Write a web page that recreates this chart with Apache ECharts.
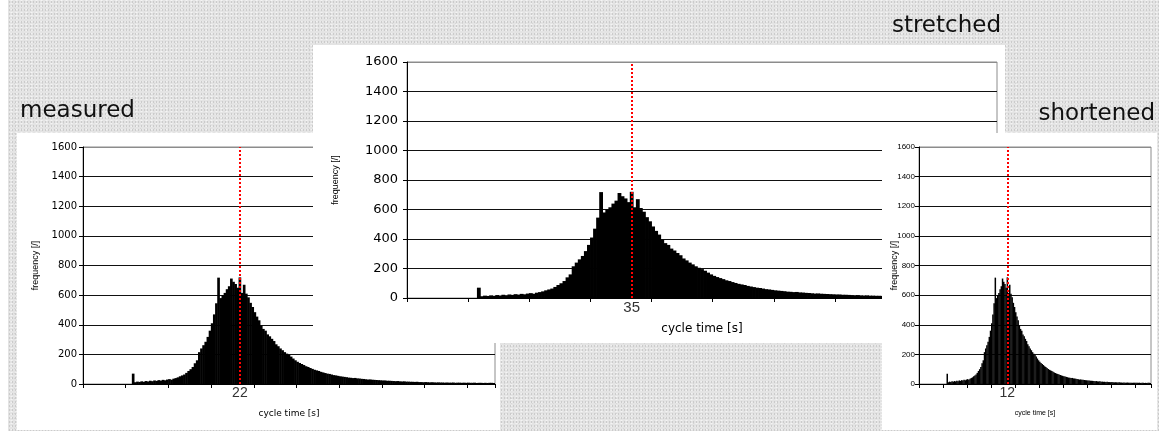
<!DOCTYPE html>
<html>
<head>
<meta charset="utf-8">
<script src="https://cdn.jsdelivr.net/npm/echarts@6/dist/echarts.min.js"></script>
<style>
  html, body { margin: 0; padding: 0; background: #fff; }
  /* grey paper-like backdrop behind the three panels */
  #bg {
    position: absolute; left: 8px; top: 0; width: 1151px; height: 431px;
    background-color: #e4e4e4;
    background-image:
      radial-gradient(#cbcbcb 0.6px, transparent 1.1px),
      radial-gradient(#f4f4f4 0.8px, transparent 1.2px),
      radial-gradient(#d6d6d6 0.6px, transparent 1px);
    background-size: 3px 4px, 5px 3px, 7px 5px;
    background-position: 0 0, 1px 2px, 3px 1px;
  }
  .chart { position: absolute; }
</style>
</head>
<body>
<div id="bg"></div>
<div id="measured" class="chart" style="left:17px;top:95px;width:483px;height:335px;z-index:1;background:linear-gradient(to bottom, transparent 38px, #fff 38px);"></div>
<div id="stretched" class="chart" style="left:313px;top:10px;width:692px;height:333px;z-index:2;background:linear-gradient(to bottom, transparent 35px, #fff 35px);"></div>
<div id="shortened" class="chart" style="left:882px;top:95px;width:275px;height:335px;z-index:3;background:linear-gradient(to bottom, transparent 38px, #fff 38px);"></div>
<script>
// panel titles and the value under the red line
const panelTitles = ['measured', 'stretched', 'shortened'];
const markLabels = ['22', '35', '12'];
const xTitle = 'cycle time [s]';
const yTitle = 'frequency [/]';

// y axis ticks
const yMin = 0;
const yMax = 1600;
const yStep = 200;

// histogram bin where the red dotted line sits, and bins between x ticks
const markBin = 73;
const binsPerTick = 20;

// frequency per bin (same histogram in all three panels)
const frequency = [
  0, 0, 0, 0, 0, 0, 0, 0, 0, 0, 0, 0, 0, 0, 0, 0, 0, 0, 0, 0, 0, 0, 0,
  70, 12, 16, 14, 18, 15, 20, 17, 22, 19, 24, 21, 26, 23, 28, 25, 30, 33, 29,
  36, 40, 45, 52, 58, 64, 75, 88, 100, 115, 140, 160, 215, 240, 262, 285, 318,
  360, 410, 470, 545, 718, 580, 600, 615, 640, 660, 712, 690, 675, 650, 720,
  615, 670, 610, 585, 548, 520, 485, 455, 430, 395, 372, 360, 335, 322, 305,
  290, 268, 255, 240, 228, 215, 205, 196, 185, 172, 160, 150, 142, 135, 128,
  120, 115, 108, 102, 96, 92, 88, 82, 78, 74, 70, 68, 64, 60, 58, 55, 52, 50,
  48, 46, 43, 42, 40, 41, 38, 37, 35, 34, 32, 30, 31, 29, 28, 27, 26, 25, 24,
  24, 22, 22, 21, 20, 19, 20, 18, 17, 18, 16, 16, 15, 15, 14, 15, 13, 13, 12,
  13, 12, 11, 12, 11, 10, 11, 10, 10, 9, 10, 9, 9, 10, 8, 9, 9, 8, 9, 8, 9, 8,
  8, 9, 7, 8, 8, 7, 8, 7, 8, 8, 7
];
const bins = frequency.map((v, i) => String(i));

// layout / look of each panel
const panels = [
  {
    id: 'measured',
    title: { left: 3, top: 5 },
    grid: { left: 66, top: 52, width: 412, height: 237 },
    tickFont: { fontSize: 10, fontFamily: 'DejaVu Sans' }, tickMargin: 6,
    xName: { fontSize: 9, fontFamily: 'DejaVu Sans' }, xGap: 25,
    yName: { fontSize: 9, fontFamily: 'Liberation Sans' }, yGap: 43,
    markFont: 14
  },
  {
    id: 'stretched',
    title: { right: 4, top: 5 },
    grid: { left: 94, top: 52, width: 590, height: 236 },
    tickFont: { fontSize: 13, fontFamily: 'DejaVu Sans' }, tickMargin: 9,
    xName: { fontSize: 12, fontFamily: 'DejaVu Sans' }, xGap: 25,
    yName: { fontSize: 9, fontFamily: 'Liberation Sans' }, yGap: 67,
    markFont: 15
  },
  {
    id: 'shortened',
    title: { right: 2, top: 8 },
    grid: { left: 37, top: 52, width: 232, height: 237 },
    tickFont: { fontSize: 8, fontFamily: "'Liberation Sans Narrow', 'Liberation Sans'" }, tickMargin: 4,
    xName: { fontSize: 7, fontFamily: "'Liberation Sans Narrow', 'Liberation Sans'" }, xGap: 26,
    yName: { fontSize: 9, fontFamily: 'Liberation Sans' }, yGap: 20,
    markFont: 14
  }
];

function buildOption(p, i) {
  // black grid lines, the top one (plot border) grey
  const lineCount = Math.round((yMax - yMin) / yStep) + 1;
  const splitColors = [];
  for (let k = 0; k < lineCount; k++) splitColors.push(k === lineCount - 1 ? '#8c8c8c' : '#111');

  return {
    animation: false,
    backgroundColor: 'transparent',
    graphic: [
      Object.assign({
        type: 'text',
        style: { text: panelTitles[i], font: '23px "DejaVu Sans"', fill: '#111' }
      }, p.title)
    ],
    grid: Object.assign({
      show: true, borderColor: '#8c8c8c', borderWidth: 1,
      backgroundColor: '#fff', outerBoundsMode: 'none', containLabel: false
    }, p.grid),
    xAxis: {
      type: 'category',
      data: bins,
      boundaryGap: true,
      axisLine: { lineStyle: { color: '#000', width: 1 } },
      axisTick: { show: true, inside: false, interval: binsPerTick - 1, length: 4, lineStyle: { color: '#000', width: 1 } },
      axisLabel: {
        interval: (idx) => idx === markBin,
        formatter: () => markLabels[i],
        margin: 2,
        color: '#333',
        fontSize: p.markFont,
        fontFamily: 'Liberation Sans'
      },
      splitLine: { show: false },
      name: xTitle,
      nameLocation: 'middle',
      nameGap: p.xGap,
      nameMoveOverlap: false,
      nameTextStyle: Object.assign({ color: '#000' }, p.xName)
    },
    yAxis: {
      type: 'value',
      min: yMin,
      max: yMax,
      interval: yStep,
      axisLine: { show: true, lineStyle: { color: '#000', width: 1 } },
      axisTick: { show: true, length: 4, lineStyle: { color: '#000' } },
      axisLabel: Object.assign({ color: '#000', margin: p.tickMargin, formatter: (v) => String(v) }, p.tickFont),
      splitLine: { show: true, lineStyle: { color: splitColors, width: 1 } },
      name: yTitle,
      nameLocation: 'middle',
      nameGap: p.yGap,
      nameRotate: 90,
      nameMoveOverlap: false,
      nameTextStyle: Object.assign({ color: '#000' }, p.yName)
    },
    series: [
      {
        type: 'bar',
        data: frequency,
        barWidth: '125%',
        itemStyle: { color: '#000' },
        markLine: {
          silent: true,
          symbol: 'none',
          label: { show: false },
          lineStyle: { color: '#ff0000', type: 'dotted', width: 2 },
          data: [{ xAxis: markBin }]
        }
      }
    ]
  };
}

panels.forEach((p, i) => {
  const chart = echarts.init(document.getElementById(p.id));
  chart.setOption(buildOption(p, i));
});
</script>
</body>
</html>
